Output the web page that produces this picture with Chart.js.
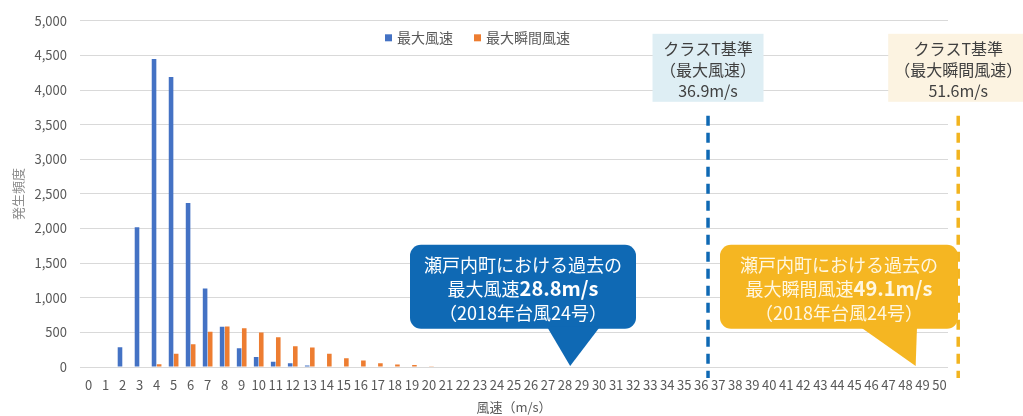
<!DOCTYPE html>
<html lang="ja">
<head>
<meta charset="utf-8">
<title>風速の発生頻度</title>
<script src="https://cdn.jsdelivr.net/npm/chart.js@4.4.1/dist/chart.umd.min.js"></script>
<style>
  html, body { margin: 0; padding: 0; background: #ffffff; }
  #wrap { width: 1023px; height: 416px; position: relative; }
</style>
</head>
<body>
<div id="wrap"><canvas id="chart" width="1023" height="416"></canvas></div>
<script>
// Wind speed classes (m/s); class k covers k to k+1 m/s
const speeds = ['0','1','2','3','4','5','6','7','8','9','10','11','12','13','14','15','16','17','18','19','20',
  '21','22','23','24','25','26','27','28','29','30','31','32','33','34','35','36','37','38','39','40',
  '41','42','43','44','45','46','47','48','49','50'];

// Occurrence counts per class: maximum wind speed
const maxWind = [0, 0, 285, 2020, 4450, 4190, 2370, 1135, 580, 270, 145, 75, 55, 20, 0, 0, 0, 0, 0, 0, 0,
  0, 0, 0, 0, 0, 0, 0, 0, 0, 0, 0, 0, 0, 0, 0, 0, 0, 0, 0, 0,
  0, 0, 0, 0, 0, 0, 0, 0, 0, 0];

// Occurrence counts per class: maximum instantaneous wind speed
const maxGust = [0, 0, 0, 0, 40, 190, 330, 510, 585, 560, 500, 430, 300, 280, 190, 125, 95, 55, 35, 30, 10,
  0, 0, 0, 0, 0, 0, 0, 0, 0, 0, 0, 0, 0, 0, 0, 0, 0, 0, 0, 0,
  0, 0, 0, 0, 0, 0, 0, 0, 0, 0];

const seriesNames = ['最大風速', '最大瞬間風速'];
const yRange = { min: 0, max: 5000, step: 500 };

// Class T design criteria (m/s)
const classTWind = 36.9;
const classTGust = 51.6;

// Highest recorded values at Setouchi (Typhoon No.24, 2018)
const recordWind = 28.8;
const recordGust = 49.1;

const FONT = '"Noto Sans CJK JP", "Noto Sans", sans-serif';
const BLUE = '#4472c4';
const ORANGE = '#ed7d31';
const LINE_BLUE = '#0f69b4';
const LINE_YELLOW = '#f2b41f';

Chart.defaults.font.family = FONT;
Chart.defaults.color = '#595959';

function setFont(ctx, size, weight) {
  ctx.font = (weight || 'normal') + ' ' + size + 'px ' + FONT;
}

// Pixel position of a wind speed on the class axis (class k spans k..k+1)
function speedToPixel(xScale, speed) {
  return xScale.getPixelForValue(speed - 0.5);
}

// Draws a mixed-weight line of text centred on cx
function drawRuns(ctx, runs, cx, cy, color) {
  let total = 0;
  runs.forEach(r => { setFont(ctx, r.size, r.weight); r.w = ctx.measureText(r.text).width; total += r.w; });
  let x = cx - total / 2;
  ctx.fillStyle = color;
  ctx.textBaseline = 'middle';
  ctx.textAlign = 'left';
  runs.forEach(r => { setFont(ctx, r.size, r.weight); ctx.fillText(r.text, x, cy); x += r.w; });
}

const overlay = {
  id: 'overlay',
  afterDatasetsDraw(chart) {
    const { ctx, chartArea, scales } = chart;
    const xs = scales.x, y = scales.y;
    const base = y.getPixelForValue(0);

    // Class T criterion lines with their label boxes
    const criteria = [
      { value: classTWind, color: LINE_BLUE, fill: '#deeef4', width: 111,
        lines: ['クラスT基準', '（最大風速）', classTWind + 'm/s'] },
      { value: classTGust, color: LINE_YELLOW, fill: '#fcf3e1', width: 140,
        lines: ['クラスT基準', '（最大瞬間風速）', classTGust + 'm/s'] }
    ];
    criteria.forEach(c => {
      const x = speedToPixel(xs, c.value);
      ctx.save();
      ctx.strokeStyle = c.color;
      ctx.lineWidth = 3.5;
      ctx.setLineDash([10, 7]);
      ctx.beginPath();
      ctx.moveTo(x, y.getPixelForValue(3630));
      ctx.lineTo(x, base + 11);
      ctx.stroke();
      ctx.restore();

      ctx.save();
      ctx.fillStyle = c.fill;
      ctx.fillRect(x - c.width / 2, chartArea.top + 13, c.width, 68);
      setFont(ctx, 16);
      ctx.fillStyle = '#404040';
      ctx.textAlign = 'center';
      ctx.textBaseline = 'middle';
      c.lines.forEach((t, i) => ctx.fillText(t, x, chartArea.top + 28 + i * 21));
      ctx.restore();
    });

    // Record callouts pointing at the observed maxima
    const callouts = [
      { value: recordWind, fill: '#0f69b4', text: '#ffffff', left: 410, right: 636,
        baseL: 547, baseR: 600, label: '最大風速' },
      { value: recordGust, fill: '#f5b622', text: '#fff7e0', left: 720, right: 958,
        baseL: 860, baseR: 917, label: '最大瞬間風速' }
    ];
    callouts.forEach(c => {
      const top = chartArea.top + 224, bottom = chartArea.top + 308;
      const tipX = speedToPixel(xs, c.value);
      ctx.save();
      ctx.fillStyle = c.fill;
      ctx.beginPath();
      ctx.roundRect(c.left, top, c.right - c.left, bottom - top, 11);
      ctx.fill();
      ctx.beginPath();
      ctx.moveTo(c.baseL, bottom - 2);
      ctx.lineTo(tipX, base - 1);
      ctx.lineTo(c.baseR, bottom - 2);
      ctx.closePath();
      ctx.fill();
      const cx = (c.left + c.right) / 2;
      drawRuns(ctx, [{ text: '瀬戸内町における過去の', size: 18 }], cx, top + 20, c.text);
      drawRuns(ctx, [{ text: c.label, size: 18 }, { text: c.value + 'm/s', size: 20, weight: 'bold' }], cx, top + 44, c.text);
      drawRuns(ctx, [{ text: '（2018年台風24号）', size: 18 }], cx, top + 68, c.text);
      ctx.restore();
    });
  },
  afterDraw(chart) {
    // Series legend inside the plot area
    const { ctx, chartArea } = chart;
    let x = 385;
    const cy = chartArea.top + 17;
    ctx.save();
    setFont(ctx, 14);
    ctx.textBaseline = 'middle';
    ctx.textAlign = 'left';
    chart.data.datasets.forEach(ds => {
      ctx.fillStyle = ds.backgroundColor;
      ctx.fillRect(x, cy - 3.5, 7, 7);
      ctx.fillStyle = '#595959';
      ctx.fillText(ds.label, x + 12, cy);
      x += 12 + ctx.measureText(ds.label).width + 21;
    });
    ctx.restore();
  }
};

new Chart(document.getElementById('chart').getContext('2d'), {
  type: 'bar',
  data: {
    labels: speeds,
    datasets: [
      { label: seriesNames[0], data: maxWind, backgroundColor: BLUE, categoryPercentage: 0.6, barPercentage: 0.9 },
      { label: seriesNames[1], data: maxGust, backgroundColor: ORANGE, categoryPercentage: 0.6, barPercentage: 0.9 }
    ]
  },
  options: {
    responsive: false,
    animation: false,
    devicePixelRatio: 1,
    layout: { padding: { top: 20, right: 75, left: 0, bottom: 0 } },
    plugins: { legend: { display: false }, tooltip: { enabled: false } },
    scales: {
      x: {
        type: 'category',
        grid: { display: false, drawTicks: false },
        border: { display: false },
        ticks: { autoSkip: false, maxRotation: 0, minRotation: 0, padding: 10, color: '#595959', font: { size: 13 } },
        title: { display: true, text: '風速（m/s）', color: '#595959', font: { size: 13 }, padding: { top: 0, bottom: 1 } },
        afterFit(scale) { scale.height = 49; }
      },
      y: {
        min: yRange.min,
        max: yRange.max,
        grid: { color: '#d9d9d9', drawTicks: false },
        border: { display: false },
        ticks: {
          stepSize: yRange.step,
          padding: 13,
          color: '#595959',
          font: { size: 13 },
          callback: val => Number(val).toLocaleString('en-US')
        },
        title: { display: true, text: '発生頻度', color: '#8c8c8c', font: { size: 13 }, padding: { top: 10, bottom: 0 } },
        afterFit(scale) { scale.width = 80; }
      }
    }
  },
  plugins: [overlay]
});
</script>
</body>
</html>
